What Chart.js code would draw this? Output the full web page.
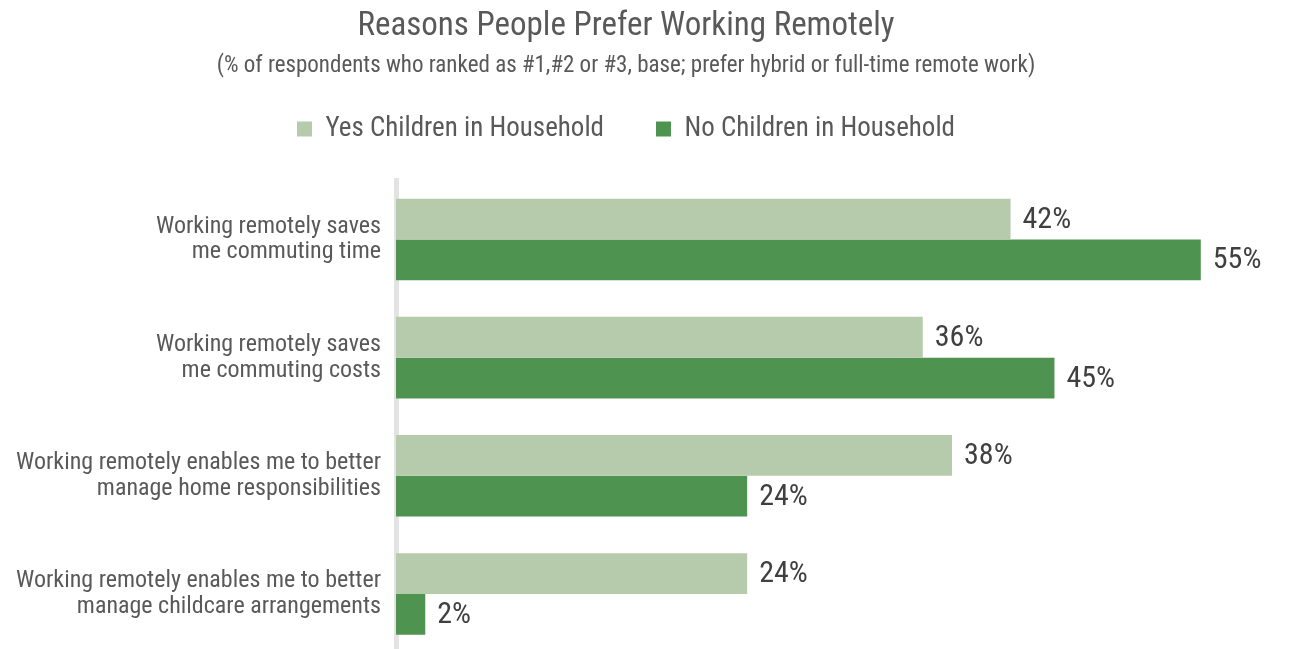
<!DOCTYPE html>
<html>
<head>
<meta charset="utf-8">
<title>Reasons People Prefer Working Remotely</title>
<script src="https://cdn.jsdelivr.net/npm/chart.js@4.4.1/dist/chart.umd.min.js"></script>
<style>
  html, body { margin: 0; padding: 0; background: #fff; overflow: hidden; }
  #wrap { width: 1291px; height: 653px; }
</style>
</head>
<body>
<div id="wrap"><canvas id="chart" width="1291" height="653"></canvas></div>
<script>
// Data
const categories = [
    ['Working remotely saves', 'me commuting time'],
    ['Working remotely saves', 'me commuting costs'],
    ['Working remotely enables me to better', 'manage home responsibilities'],
    ['Working remotely enables me to better', 'manage childcare arrangements']
];
const seriesNames = ['Yes Children in Household', 'No Children in Household'];
const yesChildren = [42, 36, 38, 24];
const noChildren = [55, 45, 24, 2];
const xMax = 58.5;

const COLORS = {
    yes: '#B5CBAB',
    no: '#4F9350',
    text: '#595959',
    label: '#404040',
    axis: '#E3E3E3'
};

// first narrow face that is actually installed, else plain Roboto
function pickFont(list, fallback) {
    const c = document.createElement('canvas').getContext('2d');
    const probe = 'Working remotely enables 0123456789%';
    for (const name of list) {
        for (const base of ['monospace', 'serif']) {
            c.font = `40px ${base}`;
            const w0 = c.measureText(probe).width;
            c.font = `40px "${name}", ${base}`;
            if (c.measureText(probe).width !== w0) return `"${name}", ${fallback}`;
        }
    }
    return fallback;
}
const FONT = pickFont(['Roboto Condensed', 'Liberation Sans Narrow', 'Arial Narrow', 'DejaVu Sans Condensed'], 'Roboto, sans-serif');

Chart.defaults.font.family = FONT;
Chart.defaults.color = COLORS.text;

// percentage written just past the end of each bar
const valueLabels = {
    id: 'valueLabels',
    afterDatasetsDraw(chart) {
        const ctx = chart.ctx;
        ctx.save();
        ctx.font = `30px ${FONT}`;
        ctx.fillStyle = COLORS.label;
        ctx.textAlign = 'left';
        ctx.textBaseline = 'middle';
        chart.data.datasets.forEach((ds, i) => {
            chart.getDatasetMeta(i).data.forEach((bar, j) => {
                ctx.fillText(ds.data[j] + '%', bar.x + 12, bar.y + 1);
            });
        });
        ctx.restore();
    }
};

new Chart(document.getElementById('chart'), {
    type: 'bar',
    data: {
        labels: categories,
        datasets: [
            {
                label: seriesNames[0],
                data: yesChildren,
                backgroundColor: COLORS.yes,
                borderWidth: 0,
                categoryPercentage: 0.69,
                barPercentage: 1
            },
            {
                label: seriesNames[1],
                data: noChildren,
                backgroundColor: COLORS.no,
                borderWidth: 0,
                categoryPercentage: 0.69,
                barPercentage: 1
            }
        ]
    },
    options: {
        indexAxis: 'y',
        responsive: false,
        animation: false,
        devicePixelRatio: 1,
        layout: { padding: { left: 0, right: 39, top: 0, bottom: 0 } },
        scales: {
            x: {
                position: 'top',
                min: 0,
                max: xMax,
                ticks: { display: false },
                grid: { display: false },
                border: { display: false },
                afterFit: s => { s.height = 28; }
            },
            y: {
                grid: { display: false, drawTicks: false },
                border: { display: true, color: COLORS.axis, width: 5 },
                ticks: {
                    color: COLORS.text,
                    font: { size: 24, lineHeight: 1.08 },
                    padding: 15
                },
                afterFit: s => {
                    s.width = 396;
                    // let the bars run to the bottom edge
                    s.paddingTop = 0;
                    s.paddingBottom = 0;
                }
            }
        },
        plugins: {
            title: {
                display: true,
                text: 'Reasons People Prefer Working Remotely',
                color: COLORS.text,
                font: { size: 33, weight: 'normal', lineHeight: 1.2 },
                padding: { top: 6.5, bottom: 6 }
            },
            subtitle: {
                display: true,
                text: '(% of respondents who ranked as #1,#2 or #3, base; prefer hybrid or full-time remote work)',
                color: COLORS.text,
                font: { size: 23, lineHeight: 1.2 },
                padding: { top: 0, bottom: -16.3 }
            },
            legend: {
                position: 'top',
                labels: {
                    color: COLORS.text,
                    font: { size: 27 },
                    boxWidth: 15,
                    boxHeight: 15,
                    padding: 52
                }
            },
            tooltip: { enabled: false }
        }
    },
    plugins: [valueLabels]
});
</script>
</body>
</html>
